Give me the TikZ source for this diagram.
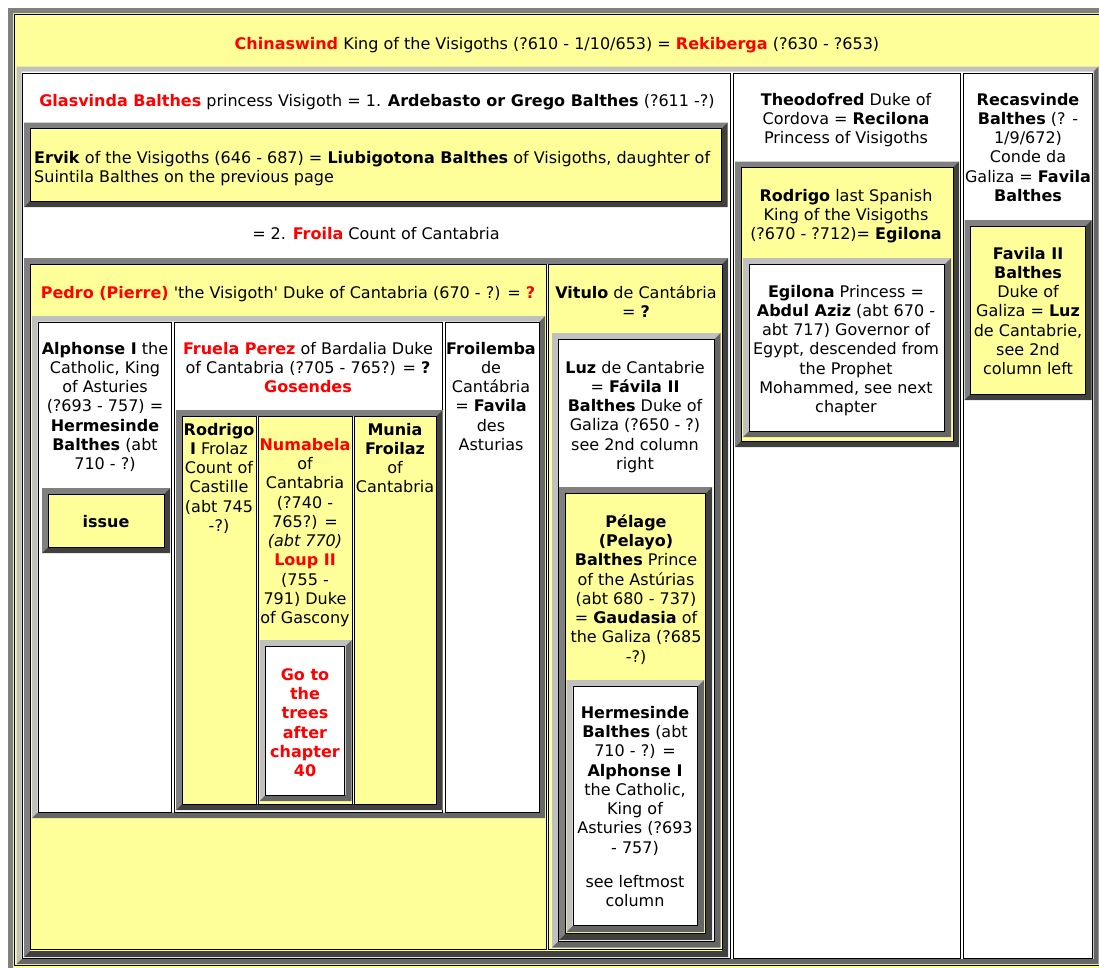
\documentclass[tikz,border=0pt]{standalone}
\usepackage{fontspec}
\setmainfont{DejaVu Sans}
\usepackage{xcolor}
\definecolor{hyellow}{HTML}{FFFF99}
\definecolor{hred}{HTML}{FF0000}
\definecolor{bvlight}{HTML}{C0C0C0}
\definecolor{bvmid}{HTML}{808080}
\definecolor{bvdark}{HTML}{404040}
\definecolor{bvshade}{HTML}{666666}

% centred and left-aligned stacks of lines, first baseline on the anchor
\newcommand\celltext[1]{\begin{tabular}[t]{@{}c@{}}#1\end{tabular}}
\newcommand\celltextl[1]{\begin{tabular}[t]{@{}l@{}}#1\end{tabular}}
\newcommand\rb[1]{\textcolor{hred}{\textbf{#1}}}

% raised frame: x1 y1 x2 y2 width upper-left-colour lower-right-colour
\newcommand\bevelbox[7]{%
  \fill[#6] (#1,#2) -- (#3,#2) -- ({#3-#5},{#2+#5}) -- ({#1+#5},{#2+#5})
            -- ({#1+#5},{#4-#5}) -- (#1,#4) -- cycle;
  \fill[#7] (#3,#2) -- (#3,#4) -- (#1,#4) -- ({#1+#5},{#4-#5})
            -- ({#3-#5},{#4-#5}) -- ({#3-#5},{#2+#5}) -- cycle;
}
% table: background, then frame
\newcommand\tablebox[8]{%
  \fill[#8] (#1,#2) rectangle (#3,#4);
  \bevelbox{#1}{#2}{#3}{#4}{#5}{#6}{#7}%
}

\begin{document}
\begin{tikzpicture}[x=1pt,y=-1pt,
  entry/.style={inner sep=0pt, anchor=base, font=\fontsize{16pt}{19.33pt}\selectfont},
  cellline/.style={draw=black, line width=1pt}]
\useasboundingbox (0,0) rectangle (1099,967);
\clip (0,0) rectangle (1099,967);
\fill[white] (0,0) rectangle (1099,967);

% outermost table
\tablebox{8}{8}{1112}{985}{5}{bvmid}{bvmid}{hyellow}
\draw[cellline] (14.5,14.5) rectangle (1106,965.5);

% second level table with three columns
\tablebox{16.5}{66.5}{1098.5}{964}{5}{bvlight}{bvshade}{white}
\draw[cellline] (22,73) rectangle (730.5,958.5);
\draw[cellline] (733,73) rectangle (960.5,958.5);
\draw[cellline] (963,73) rectangle (1092.5,958.5);

% ---- left column ----
\tablebox{24}{122.5}{727.5}{207}{6}{bvmid}{bvdark}{hyellow}
\draw[cellline] (30.5,128.5) rectangle (721.5,201.5);

\tablebox{24}{258}{728}{957}{6}{bvmid}{bvdark}{hyellow}
\draw[cellline] (30.5,264.5) rectangle (546,949.5);
\draw[cellline] (548.5,264.5) rectangle (722,949.5);

% children of Pedro
\tablebox{32}{316}{545}{818}{5.5}{bvlight}{bvshade}{white}
\draw[cellline] (38.5,322) rectangle (171.5,812);
\draw[cellline] (174,322) rectangle (442.5,812);
\draw[cellline] (445,322) rectangle (539,812);

\tablebox{42}{488}{170}{553}{6}{bvmid}{bvdark}{hyellow}
\draw[cellline] (48,494) rectangle (164,547);

\tablebox{176}{410}{442.5}{810}{6}{bvmid}{bvdark}{hyellow}
\draw[cellline] (182.5,416.5) rectangle (256.5,804);
\draw[cellline] (258.5,416.5) rectangle (352.5,804);
\draw[cellline] (354.5,416.5) rectangle (436,804);

\tablebox{259.5}{640}{351.5}{801}{6}{bvlight}{bvshade}{white}
\draw[cellline] (265.5,646.5) rectangle (344.5,795.5);

% children of Vitulo
\tablebox{552}{333}{720.5}{947.5}{6}{bvlight}{bvshade}{white}
\draw[cellline] (558,339) rectangle (714,941.5);
\tablebox{559}{487}{712}{940}{6}{bvmid}{bvdark}{hyellow}
\draw[cellline] (565.5,493) rectangle (705.5,933.5);
\tablebox{566.5}{680}{704}{932}{6}{bvlight}{bvshade}{white}
\draw[cellline] (573,686) rectangle (697.5,925.5);

% ---- middle column ----
\tablebox{735}{161.5}{959}{447}{6}{bvmid}{bvdark}{hyellow}
\draw[cellline] (741,167.5) rectangle (953,441);
\tablebox{743}{258}{951}{437}{6}{bvlight}{bvshade}{white}
\draw[cellline] (749.5,264) rectangle (944.5,431);

% ---- right column ----
\tablebox{964.5}{220}{1091.5}{400}{6}{bvmid}{bvdark}{hyellow}
\draw[cellline] (970.5,226) rectangle (1085.5,394.5);

% ---- texts ----
\node[entry] (chinaswind) at (557,49) {\rb{Chinaswind} King of the Visigoths (?610 - 1/10/653) = \rb{Rekiberga} (?630 - ?653)};
\node[entry] (glasvinda) at (377,106) {\rb{Glasvinda Balthes} princess Visigoth = 1. \textbf{Ardebasto or Grego Balthes} (?611 -?)};
\node[entry, anchor=base west] (ervik) at (34,163) {\celltextl{\textbf{Ervik} of the Visigoths (646 - 687) = \textbf{Liubigotona Balthes} of Visigoths, daughter of\\Suintila Balthes on the previous page}};
\node[entry] (froila) at (376,239) {= 2. \rb{Froila} Count of Cantabria};
\node[entry] (pedro) at (288,298) {\rb{Pedro (Pierre)} \textquotesingle the Visigoth\textquotesingle{} Duke of Cantabria (670 - ?) = \rb{?}};
\node[entry] (vitulo) at (636,298) {\celltext{\textbf{Vitulo} de Cantábria\\= \textbf{?}}};

\node[entry] (alphonse) at (105,354) {\celltext{\textbf{Alphonse I} the\\Catholic, King\\of Asturies\\(?693 - 757) =\\\textbf{Hermesinde}\\\textbf{Balthes} (abt\\710 - ?)}};
\node[entry] (fruela) at (308,354) {\celltext{\rb{Fruela Perez} of Bardalia Duke\\of Cantabria (?705 - 765?) = \textbf{?}\\\rb{Gosendes}}};
\node[entry] (froilemba) at (491,354) {\celltext{\textbf{Froilemba}\\de\\Cantábria\\= \textbf{Favila}\\des\\Asturias}};
\node[entry] (issue) at (106,527) {\textbf{issue}};

\node[entry] (rodrigoI) at (219,435) {\celltext{\textbf{Rodrigo}\\\textbf{I} Frolaz\\Count of\\Castille\\(abt 745\\-?)}};
\node[entry] (numabela) at (305,450) {\celltext{\rb{Numabela}\\of\\Cantabria\\(?740 -\\765?) =\\\textit{(abt 770)}\\\rb{Loup II}\\(755 -\\791) Duke\\of Gascony}};
\node[entry] (munia) at (395,435) {\celltext{\textbf{Munia}\\\textbf{Froilaz}\\of\\Cantabria}};
\node[entry] (goto) at (305,680) {\celltext{\rb{Go to}\\\rb{the}\\\rb{trees}\\\rb{after}\\\rb{chapter}\\\rb{40}}};

\node[entry] (luz) at (635,373) {\celltext{\textbf{Luz} de Cantabrie\\= \textbf{Fávila II}\\\textbf{Balthes} Duke of\\Galiza (?650 - ?)\\see 2nd column\\right}};
\node[entry] (pelage) at (636,527) {\celltext{\textbf{Pélage}\\\textbf{(Pelayo)}\\\textbf{Balthes} Prince\\of the Astúrias\\(abt 680 - 737)\\= \textbf{Gaudasia} of\\the Galiza (?685\\-?)}};
\node[entry] (hermesinde) at (635,718) {\celltext{\textbf{Hermesinde}\\\textbf{Balthes} (abt\\710 - ?) =\\\textbf{Alphonse I}\\the Catholic,\\King of\\Asturies (?693\\- 757)\\[14.7pt]see leftmost\\column}};

\node[entry] (theodofred) at (846,105) {\celltext{\textbf{Theodofred} Duke of\\Cordova = \textbf{Recilona}\\Princess of Visigoths}};
\node[entry] (rodrigo) at (846,201) {\celltext{\textbf{Rodrigo} last Spanish\\King of the Visigoths\\(?670 - ?712)= \textbf{Egilona}}};
\node[entry] (egilona) at (846,297) {\celltext{\textbf{Egilona} Princess =\\\textbf{Abdul Aziz} (abt 670 -\\abt 717) Governor of\\Egypt, descended from\\the Prophet\\Mohammed, see next\\chapter}};

\node[entry] (recasvinde) at (1028,105) {\celltext{\textbf{Recasvinde}\\\textbf{Balthes} (? -\\1/9/672)\\Conde da\\Galiza = \textbf{Favila}\\\textbf{Balthes}}};
\node[entry] (favila) at (1028,259) {\celltext{\textbf{Favila II}\\\textbf{Balthes}\\Duke of\\Galiza = \textbf{Luz}\\de Cantabrie,\\see 2nd\\column left}};
\end{tikzpicture}
\end{document}
